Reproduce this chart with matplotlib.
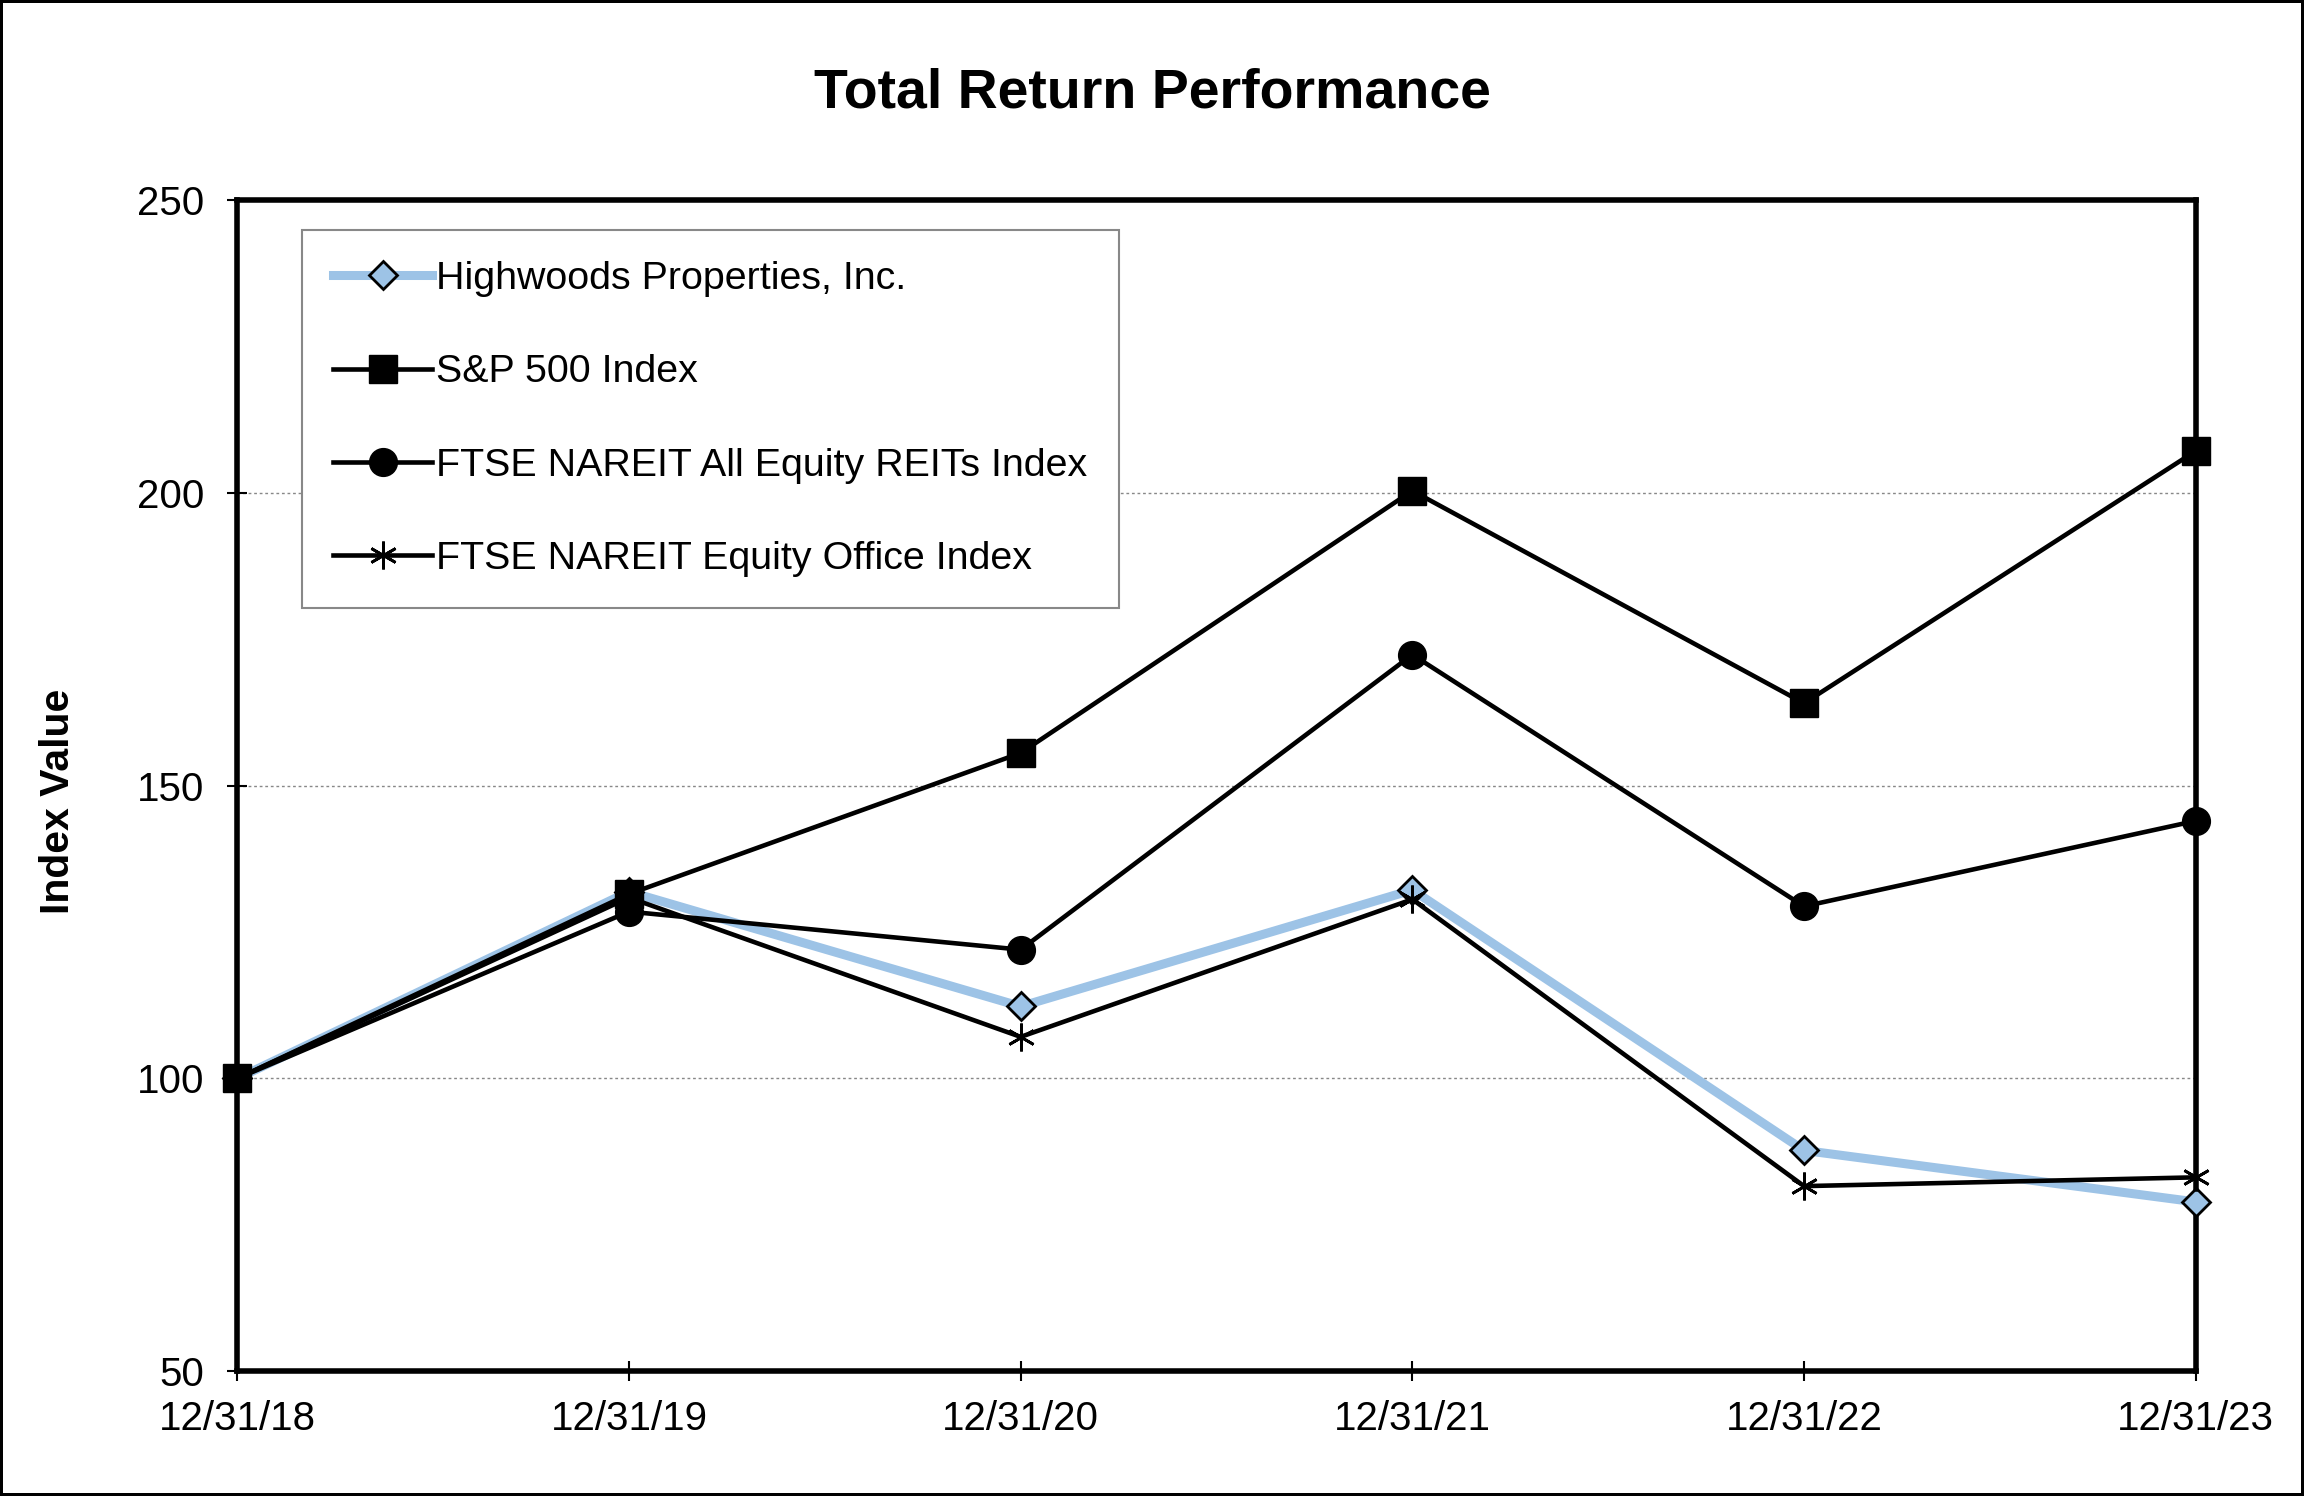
import matplotlib.pyplot as plt

# Index values
dates = ['12/31/18', '12/31/19', '12/31/20', '12/31/21', '12/31/22', '12/31/23']
highwoods = [100, 131.9, 112.3, 132.2, 87.7, 78.9]
sp500 = [100, 131.5, 155.6, 200.4, 164.1, 207.2]
reits = [100, 128.5, 122.0, 172.4, 129.4, 144.0]
office = [100, 130.9, 107.1, 130.6, 81.6, 83.1]

plt.rcParams['font.family'] = ['Liberation Sans', 'DejaVu Sans']

fig = plt.figure(figsize=(23.04, 14.96), dpi=100)
fig.patch.set_edgecolor('black')
fig.patch.set_linewidth(3)
ax = fig.add_axes([0.103, 0.0835, 0.850, 0.7825])

x = range(len(dates))
ax.plot(x, highwoods, color='#9DC3E6', lw=6.5, marker='D', ms=14,
        mfc='#9DC3E6', mec='black', mew=2, clip_on=False, zorder=3,
        label='Highwoods Properties, Inc.')
ax.plot(x, sp500, color='black', lw=3.3, marker='s', ms=20,
        clip_on=False, zorder=4, label='S&P 500 Index')
ax.plot(x, reits, color='black', lw=3.3, marker='o', ms=20,
        clip_on=False, zorder=4, label='FTSE NAREIT All Equity REITs Index')
ax.plot(x, office, color='black', lw=3.3, marker=(6, 2, 0), ms=20, mew=2,
        clip_on=False, zorder=4, label='FTSE NAREIT Equity Office Index')

ax.set_xlim(0, len(dates) - 1)
ax.set_ylim(50, 250)
ax.set_xticks(list(x))
ax.set_xticklabels(dates)
ax.set_yticks([50, 100, 150, 200, 250])
ax.tick_params(axis='both', direction='inout', length=14, width=1.5,
               labelsize=29, pad=14)
ax.tick_params(axis='y', pad=17)
ax.yaxis.grid(True, color='#888888', linestyle=(0, (2, 2)), lw=1)
ax.set_axisbelow(True)
for s in ax.spines.values():
    s.set_linewidth(4)

ax.set_ylabel('Index Value', fontsize=29.5, fontweight='bold')
ax.yaxis.set_label_coords(-0.082, 0.487)
fig.suptitle('Total Return Performance', fontsize=40, fontweight='bold', y=0.955)

leg = ax.legend(loc='upper left', bbox_to_anchor=(0.033, 0.975), borderaxespad=0,
                fontsize=28.4, labelspacing=1.45, handlelength=2.5, handletextpad=0.1,
                borderpad=0.8, fancybox=False, framealpha=1, edgecolor='#888888')
leg.get_frame().set_linewidth(1.5)

fig.savefig('out.png', dpi=100)
